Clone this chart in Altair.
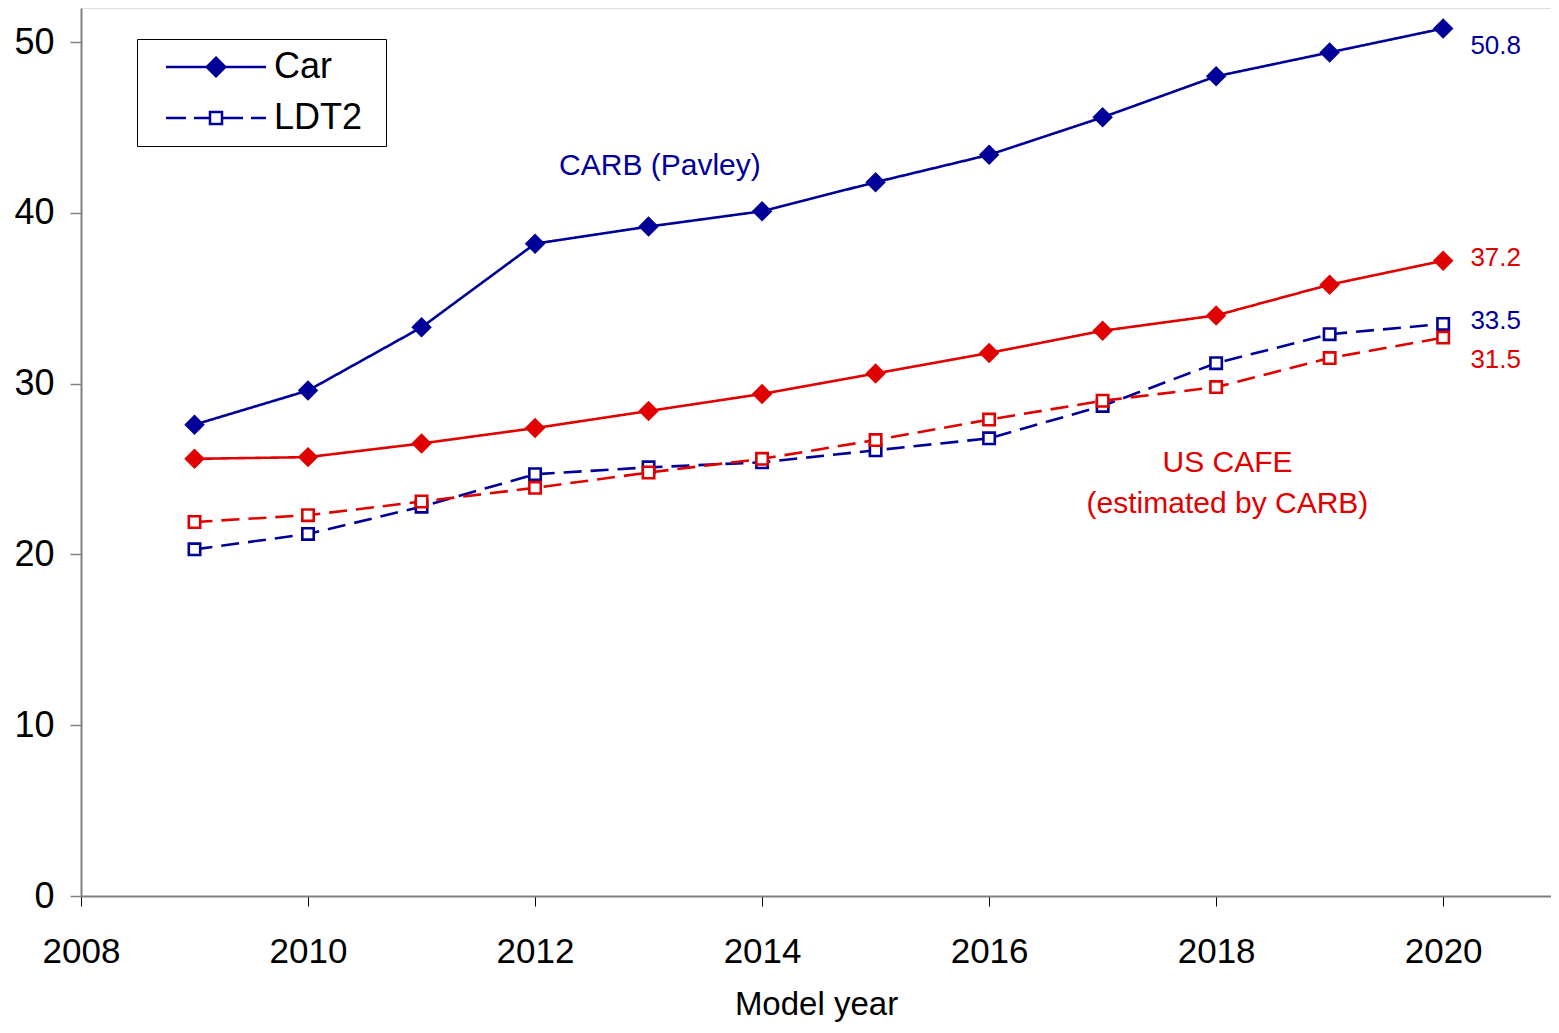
import altair as alt
import pandas as pd

# ---- data ----
years = [2009, 2010, 2011, 2012, 2013, 2014, 2015, 2016, 2017, 2018, 2019, 2020]
carb_car = [27.6, 29.6, 33.3, 38.2, 39.2, 40.1, 41.8, 43.4, 45.6, 48.0, 49.4, 50.8]
cafe_car = [25.6, 25.7, 26.5, 27.4, 28.4, 29.4, 30.6, 31.8, 33.1, 34.0, 35.8, 37.2]
carb_ldt2 = [20.3, 21.2, 22.8, 24.7, 25.1, 25.4, 26.1, 26.8, 28.7, 31.2, 32.9, 33.5]
cafe_ldt2 = [21.9, 22.3, 23.1, 23.9, 24.8, 25.6, 26.7, 27.9, 29.0, 29.8, 31.5, 32.7]

x_ticks = [2008, 2010, 2012, 2014, 2016, 2018, 2020]
y_ticks = [0, 10, 20, 30, 40, 50]

# annotation texts and their anchor points (data units)
note_text = ["CARB (Pavley)", "US CAFE", "(estimated by CARB)"]
note_x = [2013.1, 2018.1, 2018.1]
note_y = [42.75, 25.35, 22.95]
note_agency = ["CARB", "CAFE", "CAFE"]

end_text = ["50.8", "37.2", "33.5", "31.5"]
end_x = [2020.24, 2020.24, 2020.24, 2020.24]
end_y = [49.8, 37.35, 33.7, 31.4]
end_agency = ["CARB", "CAFE", "CARB", "CAFE"]

BLUE = "#000099"
RED = "#E00000"
FONT = "Liberation Sans"

rows = []
for agency, typ, vals in [("CARB", "Car", carb_car), ("CAFE", "Car", cafe_car),
                          ("CARB", "LDT2", carb_ldt2), ("CAFE", "LDT2", cafe_ldt2)]:
    for yr, v in zip(years, vals):
        rows.append({"year": yr, "mpg": v, "agency": agency, "type": typ,
                     "series": agency + " " + typ})
df = pd.DataFrame(rows)

notes = pd.DataFrame({"text": note_text, "x": note_x, "y": note_y, "agency": note_agency})
ends = pd.DataFrame({"text": end_text, "x": end_x, "y": end_y, "agency": end_agency})

agency_scale = alt.Scale(domain=["CARB", "CAFE"], range=[BLUE, RED])

xenc = alt.X("year:Q", scale=alt.Scale(domain=[2008, 2020.95], nice=False, zero=False),
             axis=alt.Axis(values=x_ticks, format="d", title="Model year",
                           labelFont=FONT, labelFontSize=35, labelColor="black",
                           labelPadding=28, labelFlush=False,
                           tickColor="black", tickSize=10, tickWidth=1,
                           domainColor="#808080", domainWidth=2, grid=False,
                           titleFont=FONT, titleFontSize=33, titleFontWeight="normal",
                           titleColor="black", titlePadding=19))
yenc = alt.Y("mpg:Q", scale=alt.Scale(domain=[0, 52], nice=False),
             axis=alt.Axis(values=y_ticks, title=None,
                           labelFont=FONT, labelFontSize=36, labelColor="black",
                           labelPadding=16, tickColor="#808080", tickSize=11, tickWidth=1.5,
                           domainColor="#808080", domainWidth=2, grid=False))

base = alt.Chart(df)

# dash scale domain ordered differently from the shape scale so that the
# (hidden) dash legend is not merged with the visible shape legend
lines = base.mark_line(strokeWidth=2.6).encode(
    x=xenc, y=yenc,
    color=alt.Color("agency:N", scale=agency_scale, legend=None),
    strokeDash=alt.StrokeDash("type:N", scale=alt.Scale(domain=["LDT2", "Car"],
                                                         range=[[18, 9], [1, 0]]),
                              legend=None),
    detail="series:N",
)

car_pts = base.transform_filter(alt.datum.type == "Car").mark_point(
    shape="diamond", filled=True, size=420, opacity=1, strokeWidth=0
).encode(x=xenc, y=yenc, fill=alt.Fill("agency:N", scale=agency_scale, legend=None))

ldt_pts = base.transform_filter(alt.datum.type == "LDT2").mark_point(
    shape="square", filled=True, fill="white", size=130, opacity=1, strokeWidth=2.6
).encode(x=xenc, y=yenc, stroke=alt.Stroke("agency:N", scale=agency_scale, legend=None))

# legend symbols: line + marker drawn as stroked custom paths
diamonds = "".join(
    "M0,-{0}L{0},0L0,{0}L-{0},0Z ".format(h) for h in [0.74, 0.62, 0.5, 0.38, 0.26, 0.14, 0.04]
)
car_path = "M-4,0H4 " + diamonds
ldt_path = ("M-4,0H-2.4 M-1.76,0H-0.56 M0.56,0H2.16 M2.8,0H4 "
            "M-0.58,-0.48H0.58 M0.48,-0.58V0.58 M0.58,0.48H-0.58 M-0.48,0.58V-0.58")

legend_kw = dict(title="I", titleOrient="right", titleFontSize=12, titlePadding=10,
                 titleOpacity=0, titleColor="white",
                 orient="none", legendX=56, legendY=31,
                 symbolSize=625, symbolOffset=51, labelOffset=40,
                 symbolStrokeWidth=2.5, symbolStrokeColor=BLUE, symbolOpacity=1,
                 labelFont=FONT, labelFontSize=36, labelColor="black",
                 rowPadding=15, padding=10,
                 strokeColor="black", fillColor="white")


def build(extra):
    legend_layer = base.mark_point(
        filled=False, color=BLUE, strokeWidth=2.5, opacity=0
    ).encode(
        x=xenc, y=yenc,
        shape=alt.Shape("type:N",
                        scale=alt.Scale(domain=["Car", "LDT2"], range=[car_path, ldt_path]),
                        legend=alt.Legend(**legend_kw, **extra)),
    )

    note_marks = alt.Chart(notes).mark_text(font=FONT, fontSize=30, align="center",
                                            baseline="middle").encode(
        x="x:Q", y="y:Q", text="text:N",
        color=alt.Color("agency:N", scale=agency_scale, legend=None))

    end_marks = alt.Chart(ends).mark_text(font=FONT, fontSize=26, align="left",
                                          baseline="middle").encode(
        x="x:Q", y="y:Q", text="text:N",
        color=alt.Color("agency:N", scale=agency_scale, legend=None))

    c = alt.layer(lines, car_pts, ldt_pts, legend_layer, note_marks, end_marks).properties(
        width=1470, height=888,
        autosize=alt.AutoSizeParams(type="none"),
        padding={"left": 73, "top": 0, "right": 0, "bottom": 128},
    ).configure_view(stroke=None).configure_legend(strokeWidth=3).configure(background="white")
    c.to_dict()
    return c


chart = None
for extra in [{"encode": {"legend": {"strokeWidth": {"value": 3}}}},
              {}]:
    try:
        chart = build(extra)
        break
    except Exception:
        chart = None

chart.save("out.html", embed_options={"renderer": "svg", "actions": False})
